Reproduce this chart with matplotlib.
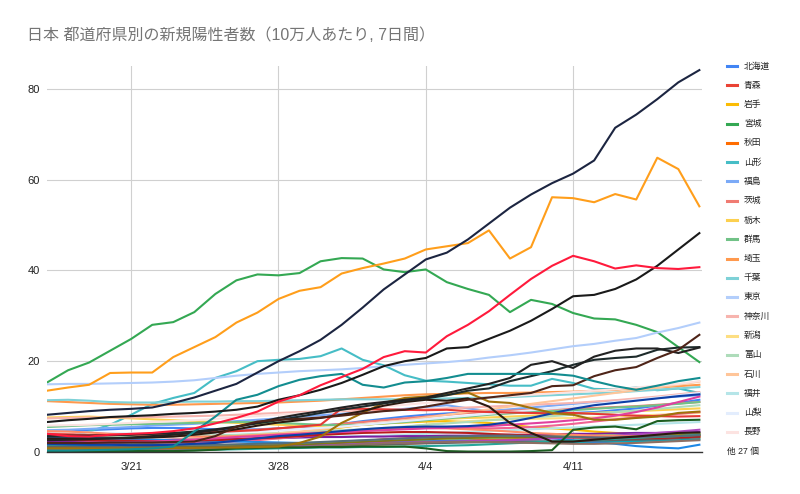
import matplotlib
matplotlib.use("Agg")
import matplotlib.pyplot as plt
from matplotlib.lines import Line2D
import pandas as pd

plt.rcParams['font.family'] = ['Liberation Sans', 'Noto Sans CJK JP', 'DejaVu Sans']

dates = pd.date_range("2021-03-17", "2021-04-17", freq="D")
tick_dates = pd.to_datetime(["2021-03-21", "2021-03-28", "2021-04-04", "2021-04-11"])
tick_labels = ["3/21", "3/28", "4/4", "4/11"]
y_ticks = [0, 20, 40, 60, 80]

# legend prefectures (first 20)
hokkaido = [4.2, 4.5, 4.8, 5.0, 5.2, 5.3, 5.3, 5.2, 5.0, 4.9, 5.0, 5.2, 5.5, 5.8, 6.2, 6.8,
            7.3, 7.8, 8.2, 8.5, 8.7, 9.0, 9.2, 9.0, 8.8, 8.6, 8.8, 9.2, 9.6, 10.2, 10.8, 11.5]
aomori = [1.4, 1.3, 1.2, 1.1, 1.0, 1.0, 0.9, 0.8, 0.8, 0.8, 0.9, 1.0, 1.3, 1.6, 2.0, 2.4,
          2.8, 3.0, 3.2, 3.1, 2.9, 2.6, 2.4, 2.3, 2.2, 2.3, 2.5, 2.8, 3.0, 3.2, 3.4, 3.6]
iwate = [0.5, 0.6, 0.7, 0.8, 1.0, 1.2, 1.5, 1.8, 2.0, 2.5, 3.0, 3.6, 4.2, 4.8, 5.4, 6.0,
         6.3, 6.5, 6.7, 6.8, 6.6, 6.4, 6.0, 5.5, 5.2, 4.9, 4.5, 4.2, 4.0, 3.8, 3.5, 3.2]
miyagi = [15.3, 18.0, 19.7, 22.3, 24.9, 28.0, 28.6, 30.8, 34.8, 37.8, 39.1, 38.9, 39.4, 42.0, 42.7, 42.6,
          40.2, 39.6, 40.2, 37.4, 35.9, 34.6, 30.8, 33.5, 32.6, 30.6, 29.4, 29.2, 28.0, 26.4, 23.1, 19.8]
akita = [0.3, 0.3, 0.2, 0.2, 0.2, 0.3, 0.4, 0.5, 0.6, 0.8, 1.0, 1.2, 1.3, 1.4, 1.5, 1.6,
         1.7, 1.8, 2.0, 2.2, 2.4, 2.6, 2.8, 3.0, 3.2, 3.3, 3.4, 3.5, 3.6, 3.7, 3.8, 3.9]
yamagata = [2.8, 3.2, 4.5, 6.0, 8.2, 10.6, 11.9, 13.0, 16.3, 17.8, 20.0, 20.3, 20.5, 21.1, 22.8, 20.3,
            19.1, 16.9, 15.7, 15.5, 15.2, 14.9, 14.6, 14.6, 16.1, 15.2, 13.9, 13.8, 14.2, 13.6, 14.0, 13.0]
fukushima = [4.8, 4.9, 5.1, 5.3, 5.5, 5.8, 6.0, 6.2, 6.5, 6.8, 7.1, 7.4, 7.8, 8.1, 8.4, 8.8,
             9.1, 9.5, 9.9, 10.3, 9.6, 9.0, 9.4, 9.8, 10.2, 10.6, 11.0, 11.3, 11.6, 11.9, 12.2, 12.5]
ibaraki = [4.2, 4.0, 3.8, 3.6, 3.7, 3.9, 4.0, 4.2, 4.4, 4.6, 4.9, 5.2, 5.5, 5.8, 6.2, 6.6,
           7.0, 7.4, 7.8, 8.2, 8.6, 8.9, 9.1, 9.3, 9.5, 9.6, 9.7, 9.9, 10.1, 10.4, 10.7, 11.0]
tochigi = [7.6, 7.7, 7.8, 7.6, 7.4, 7.2, 7.0, 6.8, 6.6, 6.4, 6.2, 6.0, 5.8, 5.7, 5.8, 6.0,
           6.3, 6.6, 7.0, 7.3, 7.5, 7.6, 7.8, 8.0, 8.2, 8.4, 8.6, 8.8, 9.0, 9.2, 9.4, 9.6]
gunma = [5.5, 5.7, 5.9, 6.0, 6.1, 6.2, 6.3, 6.4, 6.5, 6.6, 6.6, 6.4, 6.2, 6.0, 5.9, 6.0,
         6.3, 6.6, 7.0, 7.4, 7.8, 8.2, 8.5, 8.8, 9.0, 9.2, 9.5, 9.8, 10.0, 10.3, 10.6, 11.0]
saitama = [11.2, 11.0, 10.8, 10.6, 10.5, 10.4, 10.4, 10.5, 10.6, 10.7, 10.8, 10.9, 11.1, 11.3, 11.6, 11.9,
           12.2, 12.5, 12.7, 12.8, 12.9, 13.0, 13.0, 13.1, 13.2, 13.3, 13.5, 13.7, 14.0, 14.2, 14.5, 14.8]
chiba = [11.4, 11.5, 11.3, 11.0, 10.9, 10.9, 11.0, 11.1, 11.1, 11.2, 11.2, 11.3, 11.4, 11.5, 11.6, 11.6,
         11.6, 11.6, 11.7, 11.8, 11.9, 12.0, 12.1, 12.3, 12.5, 12.7, 12.9, 13.1, 13.4, 13.7, 14.0, 14.3]
tokyo = [14.9, 15.0, 15.0, 15.1, 15.2, 15.3, 15.5, 15.8, 16.3, 16.8, 17.2, 17.5, 17.8, 18.0, 18.2, 18.5,
         18.9, 19.2, 19.5, 19.8, 20.2, 20.8, 21.3, 21.9, 22.6, 23.3, 23.8, 24.5, 25.1, 26.3, 27.3, 28.5]
kanagawa = [7.4, 7.5, 7.6, 7.6, 7.6, 7.7, 7.8, 7.9, 8.0, 8.2, 8.4, 8.6, 8.8, 8.9, 9.0, 9.1,
            9.2, 9.3, 9.4, 9.6, 9.8, 10.0, 10.2, 10.4, 10.6, 10.8, 11.1, 11.4, 11.8, 12.2, 12.7, 13.2]
niigata = [1.0, 1.1, 1.2, 1.3, 1.5, 1.7, 1.9, 2.1, 2.3, 2.5, 2.7, 3.0, 3.3, 3.6, 4.0, 4.5,
           5.0, 5.5, 6.0, 6.4, 6.8, 7.0, 7.2, 7.3, 7.4, 7.5, 7.6, 7.8, 8.0, 8.2, 8.4, 8.6]
toyama = [3.1, 3.2, 3.2, 3.3, 3.3, 3.4, 3.5, 3.6, 3.7, 3.8, 4.0, 4.2, 4.4, 4.6, 4.8, 5.0,
          5.3, 5.6, 6.0, 6.3, 6.6, 7.0, 7.3, 7.6, 7.9, 8.2, 8.5, 8.8, 9.1, 9.5, 9.9, 10.3]
ishikawa = [2.1, 2.2, 2.3, 2.4, 2.5, 2.6, 2.8, 3.0, 3.2, 3.5, 3.8, 4.1, 4.5, 5.0, 5.5, 6.0,
            6.5, 7.0, 7.6, 8.2, 8.8, 9.4, 10.0, 10.6, 11.2, 11.8, 12.4, 13.0, 13.6, 14.2, 14.8, 15.5]
fukui = [1.0, 1.2, 1.3, 1.5, 1.6, 1.8, 2.0, 2.2, 2.4, 2.6, 2.8, 3.0, 3.2, 3.3, 3.4, 3.5,
         3.6, 3.8, 4.0, 4.2, 4.4, 4.6, 4.8, 5.0, 5.2, 5.4, 5.6, 5.8, 6.0, 6.2, 6.4, 6.6]
yamanashi = [4.5, 4.4, 4.3, 4.2, 4.1, 4.0, 4.0, 4.1, 4.2, 4.4, 4.6, 4.8, 5.0, 5.3, 5.6, 6.0,
             6.4, 6.8, 7.2, 7.6, 8.0, 8.4, 8.8, 9.2, 9.6, 10.0, 10.5, 11.0, 11.5, 12.0, 12.5, 13.0]
nagano = [5.8, 5.9, 6.0, 6.2, 6.4, 6.6, 6.8, 7.0, 7.3, 7.6, 7.9, 8.2, 8.5, 8.8, 9.2, 9.6,
          10.0, 10.4, 10.8, 11.2, 11.6, 12.0, 12.3, 12.6, 12.9, 13.2, 13.5, 13.8, 14.2, 14.6, 15.0, 15.6]

# the other 27
osaka = [8.2, 8.6, 9.0, 9.3, 9.5, 9.8, 10.8, 12.0, 13.5, 15.0, 17.5, 20.0, 22.2, 24.7, 28.0, 31.8,
         35.8, 39.1, 42.4, 43.9, 46.8, 50.3, 53.8, 56.7, 59.2, 61.3, 64.2, 71.4, 74.3, 77.7, 81.4, 84.1]
hyogo = [13.5, 14.2, 14.8, 17.4, 17.5, 17.5, 20.9, 23.1, 25.3, 28.5, 30.7, 33.7, 35.5, 36.3, 39.3, 40.5,
         41.5, 42.6, 44.6, 45.3, 46.0, 48.8, 42.6, 45.1, 56.1, 55.9, 55.0, 56.8, 55.6, 64.8, 62.3, 54.1]
nara = [4.0, 3.5, 3.4, 3.8, 4.0, 4.2, 4.6, 5.2, 6.3, 7.5, 8.9, 11.1, 12.5, 14.7, 16.5, 18.3,
        20.9, 22.2, 21.9, 25.5, 28.0, 31.0, 34.6, 38.1, 41.0, 43.2, 42.0, 40.4, 41.1, 40.5, 40.3, 40.7]
wakayama = [6.6, 7.0, 7.3, 7.7, 7.9, 8.1, 8.4, 8.6, 8.9, 9.3, 10.0, 11.5, 12.5, 13.7, 15.2, 17.0,
            18.9, 20.0, 20.7, 22.8, 23.1, 24.9, 26.7, 28.9, 31.5, 34.3, 34.6, 35.9, 38.0, 41.0, 44.6, 48.2]
okinawa = [0.3, 0.3, 0.4, 0.5, 0.6, 0.8, 1.2, 4.5, 7.8, 11.5, 12.6, 14.5, 15.9, 16.7, 17.2, 14.8,
           14.2, 15.3, 15.6, 16.3, 17.2, 17.2, 17.2, 17.2, 17.2, 16.8, 15.6, 14.5, 13.7, 14.6, 15.6, 16.3]
kyoto = [2.0, 2.0, 2.0, 2.1, 2.1, 2.1, 2.2, 2.3, 3.5, 5.6, 6.7, 7.1, 7.3, 7.6, 8.0, 8.5,
         9.0, 9.3, 10.0, 10.8, 11.5, 12.0, 12.5, 13.0, 14.5, 14.7, 16.7, 18.0, 18.7, 20.7, 22.5, 25.8]
ehime = [2.6, 2.7, 2.8, 3.0, 3.2, 3.5, 3.8, 4.2, 4.8, 5.5, 6.5, 7.5, 8.3, 9.0, 9.8, 10.5,
         11.0, 11.5, 12.0, 13.0, 14.0, 15.0, 16.3, 19.2, 20.0, 18.5, 21.0, 22.3, 22.8, 22.8, 21.8, 23.0]
aichi = [3.5, 3.6, 3.6, 3.7, 3.8, 4.0, 4.2, 4.5, 5.0, 5.6, 6.3, 7.0, 7.8, 8.6, 9.3, 10.0,
         10.7, 11.3, 11.8, 12.5, 13.5, 14.0, 15.6, 16.7, 17.8, 19.2, 20.3, 20.7, 21.0, 22.5, 23.0, 23.1]
tokushima = [0.8, 0.8, 0.8, 0.8, 0.8, 0.8, 0.9, 0.9, 1.0, 1.0, 1.1, 1.2, 2.0, 3.4, 6.4, 8.6,
             10.8, 11.9, 12.2, 12.6, 13.1, 11.1, 10.8, 9.7, 8.6, 8.2, 7.1, 7.1, 7.5, 7.8, 8.6, 8.9]
yamaguchi = [3.0, 3.0, 3.0, 3.0, 3.1, 3.2, 3.4, 3.8, 4.3, 5.0, 5.8, 6.5, 7.0, 7.5, 8.2, 9.0,
             10.2, 11.0, 11.5, 11.3, 11.8, 10.0, 6.4, 4.2, 2.3, 2.3, 2.7, 3.1, 3.4, 3.8, 4.2, 4.3]
kochi = [0.2, 0.2, 0.2, 0.2, 0.2, 0.2, 0.2, 0.3, 0.5, 0.8, 0.9, 1.0, 1.0, 1.1, 1.1, 1.2,
         1.2, 1.2, 0.8, 0.2, 0.1, 0.1, 0.1, 0.2, 0.4, 4.9, 5.4, 5.6, 5.0, 6.8, 7.0, 7.1]
fukuoka = [1.8, 1.7, 1.6, 1.6, 1.5, 1.5, 1.6, 1.8, 2.0, 2.5, 3.0, 3.5, 3.8, 4.2, 4.6, 5.0,
           5.3, 5.5, 5.6, 5.6, 5.7, 6.0, 6.6, 7.5, 8.5, 9.5, 10.3, 10.8, 11.3, 11.8, 12.3, 12.7]
kagawa = [2.0, 2.0, 2.1, 2.1, 2.2, 2.3, 2.5, 2.7, 3.0, 3.3, 3.5, 3.8, 4.0, 4.2, 4.4, 4.6,
          4.8, 5.0, 5.2, 5.3, 5.5, 5.7, 6.0, 6.3, 6.6, 7.0, 7.4, 8.0, 8.8, 9.8, 11.0, 12.2]
gifu = [2.4, 2.4, 2.5, 2.5, 2.6, 2.6, 2.7, 2.7, 2.8, 2.9, 3.0, 3.1, 3.2, 3.3, 3.3, 3.4,
        3.4, 3.5, 3.5, 3.6, 3.6, 3.7, 3.8, 3.8, 3.9, 4.0, 4.0, 4.1, 4.2, 4.2, 4.3, 4.4]
shizuoka = [1.5, 1.5, 1.4, 1.4, 1.3, 1.3, 1.2, 1.2, 1.2, 1.3, 1.4, 1.5, 1.6, 1.8, 2.0, 2.2,
            2.3, 2.4, 2.5, 2.5, 2.5, 2.4, 2.4, 2.3, 2.3, 2.2, 2.2, 2.3, 2.4, 2.5, 2.6, 2.8]
mie = [3.0, 2.8, 2.6, 2.4, 2.2, 2.1, 2.0, 2.0, 2.1, 2.3, 2.6, 3.0, 3.4, 3.9, 4.3, 4.7,
       5.0, 5.2, 5.3, 5.3, 5.2, 5.2, 5.3, 5.5, 5.8, 6.2, 6.7, 7.2, 7.6, 8.0, 8.4, 8.8]
shiga = [4.0, 3.8, 3.7, 3.7, 3.8, 3.9, 4.0, 4.2, 4.4, 4.6, 4.8, 5.2, 5.6, 6.0, 9.6, 9.5,
         9.4, 9.3, 9.2, 9.3, 9.0, 8.8, 8.7, 8.6, 8.5, 8.6, 8.4, 8.2, 8.0, 7.9, 7.8, 7.9]
tottori = [3.3, 3.2, 3.1, 3.0, 2.8, 2.7, 2.6, 2.5, 2.4, 2.3, 2.2, 2.1, 2.0, 2.0, 2.1, 2.2,
           2.3, 2.4, 2.5, 2.7, 3.0, 3.3, 3.5, 3.3, 3.0, 2.6, 2.2, 1.8, 1.3, 1.0, 0.8, 1.6]
shimane = [0.6, 0.6, 0.7, 0.7, 0.8, 0.9, 1.0, 1.1, 1.2, 1.3, 1.5, 1.7, 1.9, 2.1, 2.3, 2.5,
           2.6, 2.7, 2.8, 2.9, 3.0, 3.1, 3.2, 3.3, 3.4, 3.5, 3.6, 3.7, 3.8, 3.9, 4.0, 4.1]
okayama = [0.9, 0.9, 1.0, 1.0, 1.0, 1.1, 1.1, 1.2, 1.2, 1.3, 1.4, 1.5, 1.6, 1.8, 2.0, 2.2,
           2.4, 2.6, 2.8, 3.0, 3.1, 3.2, 3.2, 3.3, 3.3, 3.4, 3.4, 3.5, 3.5, 3.6, 3.7, 3.8]
hiroshima = [1.2, 1.2, 1.1, 1.1, 1.0, 1.0, 1.0, 1.0, 1.1, 1.1, 1.2, 1.2, 1.3, 1.4, 1.5, 1.6,
             1.7, 1.8, 1.9, 2.0, 2.1, 2.2, 2.2, 2.3, 2.3, 2.4, 2.5, 2.6, 2.7, 2.8, 3.0, 3.2]
saga = [0.4, 0.4, 0.4, 0.5, 0.5, 0.5, 0.6, 0.6, 0.7, 0.8, 0.9, 1.0, 1.2, 1.4, 1.6, 1.8,
        2.0, 2.1, 2.2, 2.3, 2.4, 2.5, 2.6, 2.8, 3.0, 3.2, 3.4, 3.6, 3.9, 4.2, 4.5, 4.9]
nagasaki = [4.6, 4.5, 4.3, 4.0, 3.8, 3.6, 3.5, 3.4, 3.4, 3.5, 3.7, 3.9, 4.1, 4.3, 4.5, 4.8,
            5.0, 5.2, 5.3, 5.2, 5.0, 4.8, 4.5, 4.2, 4.0, 3.8, 3.6, 3.5, 3.4, 3.4, 3.5, 3.6]
kumamoto = [2.8, 2.7, 2.6, 2.5, 2.5, 2.4, 2.4, 2.5, 2.6, 2.8, 3.0, 3.2, 3.5, 3.8, 4.0, 4.2,
            4.3, 4.4, 4.4, 4.3, 4.2, 4.0, 3.8, 3.6, 3.4, 3.2, 3.1, 3.0, 3.0, 3.1, 3.2, 3.4]
oita = [0.1, 0.1, 0.1, 0.2, 0.2, 0.3, 0.3, 0.4, 0.5, 0.6, 0.7, 0.8, 0.9, 1.0, 1.0, 1.1,
        1.1, 1.2, 1.3, 1.4, 1.5, 1.7, 1.9, 2.1, 2.3, 2.5, 2.7, 2.9, 3.1, 3.3, 3.5, 3.8]
miyazaki = [0.5, 0.5, 0.6, 0.6, 0.6, 0.7, 0.7, 0.8, 0.8, 0.9, 1.0, 1.1, 1.2, 1.3, 1.5, 1.7,
            1.9, 2.0, 2.1, 2.2, 2.2, 2.2, 2.1, 2.0, 1.9, 1.8, 1.8, 1.9, 2.0, 2.2, 2.4, 2.6]
kagoshima = [1.9, 1.9, 1.8, 1.8, 1.7, 1.7, 1.6, 1.6, 1.6, 1.7, 1.8, 1.9, 2.0, 2.2, 2.4, 2.6,
             2.8, 3.0, 3.2, 3.4, 3.5, 3.6, 3.6, 3.5, 3.4, 3.3, 3.2, 3.2, 3.3, 3.4, 3.5, 3.7]

legend_names = ["北海道", "青森", "岩手", "宮城", "秋田", "山形", "福島", "茨城", "栃木", "群馬",
                "埼玉", "千葉", "東京", "神奈川", "新潟", "富山", "石川", "福井", "山梨", "長野"]
legend_values = [hokkaido, aomori, iwate, miyagi, akita, yamagata, fukushima, ibaraki, tochigi, gunma,
                 saitama, chiba, tokyo, kanagawa, niigata, toyama, ishikawa, fukui, yamanashi, nagano]
legend_colors = ["#4285F4", "#EA4335", "#FBBC04", "#34A853", "#FF6D01", "#46BDC6", "#7BAAF7",
                 "#F07B72", "#FCD04F", "#71C287", "#FF994D", "#7ED1D7", "#B3CEFB", "#F7B4AE",
                 "#FDDE82", "#AEDCBA", "#FFC599", "#B5E5E8", "#E3EDFD", "#FCE3E1"]

other_values = [gifu, shizuoka, mie, shiga, tottori, shimane, okayama, hiroshima, saga, nagasaki,
                kumamoto, oita, miyazaki, kagoshima, kagawa, fukuoka, kochi, tokushima, yamaguchi,
                aichi, ehime, kyoto, okinawa, wakayama, nara, hyogo, osaka]
other_colors = ["#7B1FA2", "#00ACC1", "#F06292", "#E53935", "#1E88E5", "#9CCC65", "#827717",
                "#616161", "#AB47BC", "#FF8A65", "#B71C1C", "#26A69A", "#8D6E63", "#546E7A",
                "#E040A0", "#0D3FA6", "#1B5E20", "#A0720A", "#2B1A10", "#1E2B2B", "#222222",
                "#4E2418", "#138D90", "#1A1A1A", "#FF1A3C", "#FF9E1B", "#1C2541"]

fig = plt.figure(figsize=(8, 4.94), dpi=100)
ax = fig.add_axes([47 / 800, 1 - 452 / 494, (702 - 47) / 800, (452 - 66) / 494])

for vals, col in zip(legend_values + other_values, legend_colors + other_colors):
    ax.plot(dates, vals, color=col, lw=1.5, solid_joinstyle="round", clip_on=True)

ax.set_xlim(dates[0], dates[-1] + pd.Timedelta(hours=3))
ax.set_ylim(0, 85)
ax.set_yticks(y_ticks)
ax.set_xticks(tick_dates)
ax.set_xticklabels(tick_labels)
ax.grid(True, color="#d0d0d0", lw=0.8)
ax.set_axisbelow(True)
for s in ["top", "right", "left"]:
    ax.spines[s].set_visible(False)
ax.spines["bottom"].set_color("#333333")
ax.spines["bottom"].set_linewidth(1.0)
ax.tick_params(length=0, labelsize=8, colors="#222222")
ax.tick_params(axis="y", pad=5)
ax.tick_params(axis="x", pad=7)

fig.text(27 / 800, 1 - 35 / 494, "日本 都道府県別の新規陽性者数（10万人あたり, 7日間）",
         fontsize=11.5, color="#757575", va="center", ha="left")

# legend drawn by hand to match spacing
for k, (name, col) in enumerate(zip(legend_names, legend_colors)):
    yc = 1 - (66 + k * 19.25) / 494
    fig.add_artist(Line2D([727 / 800, 737 / 800], [yc, yc], color=col, lw=2.2,
                          transform=fig.transFigure))
    fig.text(744 / 800, yc, name, fontsize=6.3, color="#222222", va="center", ha="left")
fig.text(727 / 800, 1 - (66 + 20 * 19.25) / 494, "他 27 個", fontsize=6.3, color="#222222",
         va="center", ha="left")

fig.savefig("out.png", dpi=100)
